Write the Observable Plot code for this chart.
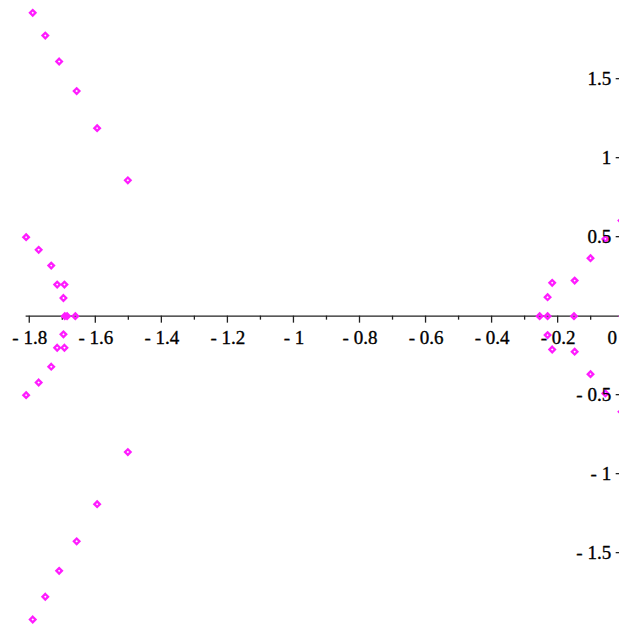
<!DOCTYPE html>
<html>
<head>
<meta charset="utf-8">
<script src="https://cdn.jsdelivr.net/npm/d3@7"></script>
<script src="https://cdn.jsdelivr.net/npm/@observablehq/plot@0.6"></script>
<style>
  html, body { margin: 0; padding: 0; background: #fff; overflow: hidden; }
  #chart svg { display: block; }
</style>
</head>
<body>
<div id="chart"></div>
<script>
// Outer branch (conjugate pairs far from the real axis)
const outerRe = [-1.791, -1.753, -1.711, -1.658, -1.596, -1.503, -1.503, -1.596, -1.658, -1.711, -1.753, -1.791];
const outerIm = [1.92, 1.776, 1.612, 1.425, 1.19, 0.86, -0.86, -1.19, -1.425, -1.612, -1.776, -1.92];

// Left cluster near x = -1.7
const leftRe = [-1.811, -1.773, -1.735, -1.717, -1.695, -1.698, -1.694, -1.687, -1.662, -1.698, -1.717, -1.695, -1.735, -1.773, -1.811];
const leftIm = [0.5, 0.42, 0.32, 0.2, 0.2, 0.115, 0, 0, 0, -0.115, -0.2, -0.2, -0.32, -0.42, -0.5];

// Right cluster near x = -0.2
const rightRe = [-0.256, -0.232, -0.232, -0.218, -0.150, -0.152, -0.102, -0.057, -0.008, -0.005, -0.232, -0.218, -0.150, -0.102, -0.057, -0.008];
const rightIm = [0, 0, 0.12, 0.211, 0.225, 0, 0.367, 0.489, 0.605, 0, -0.12, -0.211, -0.225, -0.367, -0.489, -0.605];

// Axis ticks
const xMajor = [-1.8, -1.6, -1.4, -1.2, -1, -0.8, -0.6, -0.4, -0.2, 0];
const xMinor = [-1.7, -1.5, -1.3, -1.1, -0.9, -0.7, -0.5, -0.3, -0.1];
const yMajor = [-1.5, -1, -0.5, 0.5, 1, 1.5];
const yMinor = [-1.75, -1.25, -0.75, -0.25, 0.25, 0.75, 1.25, 1.75];

const points = [];
[[outerRe, outerIm], [leftRe, leftIm], [rightRe, rightIm]].forEach(([re, im]) => {
  re.forEach((r, i) => points.push({re: r, im: im[i]}));
});

const fmt = v => v === 0 ? "0" : (v < 0 ? "- " + String(-v) : String(v));
const xMin = d3.min(points, d => d.re);

const AXIS = "#222";
const FONT = "Liberation Serif, Times New Roman, serif";
const textStyle = {fontSize: 19, fontFamily: FONT, fill: "#000", stroke: "#000", strokeWidth: 0.35};

function tickMarks(index, scales) {
  const ns = "http://www.w3.org/2000/svg";
  const g = document.createElementNS(ns, "g");
  g.setAttribute("stroke", AXIS);
  g.setAttribute("stroke-width", "1.3");
  const y0 = scales.y(0), x0 = scales.x(0);
  const add = (x1, y1, x2, y2) => {
    const l = document.createElementNS(ns, "line");
    l.setAttribute("x1", x1); l.setAttribute("y1", y1);
    l.setAttribute("x2", x2); l.setAttribute("y2", y2);
    g.appendChild(l);
  };
  xMajor.forEach(v => add(scales.x(v), y0, scales.x(v), y0 + 7));
  xMinor.forEach(v => add(scales.x(v), y0, scales.x(v), y0 + 4));
  yMajor.forEach(v => add(x0 - 8, scales.y(v), x0, scales.y(v)));
  yMinor.forEach(v => add(x0 - 4, scales.y(v), x0, scales.y(v)));
  return g;
}

const chart = Plot.plot({
  width: 619,
  height: 625,
  margin: 0,
  x: {domain: [-1.8886, -0.0142], axis: null},
  y: {domain: [-1.958, 1.998], axis: null},
  marks: [
    Plot.ruleY([0], {x1: xMin, x2: 0, stroke: AXIS, strokeWidth: 1.3}),
    tickMarks,
    Plot.dot(points, {x: "re", y: "im", symbol: "diamond2", r: 2.5, stroke: "#ff1cff", strokeWidth: 2.3, fill: "none"}),
    Plot.text(xMajor.filter(v => v !== 0), {x: d => d, y: 0, text: fmt, dy: 14, lineAnchor: "top", textAnchor: "middle", ...textStyle}),
    Plot.text([0], {x: d => d, y: 0, text: fmt, dx: -12, dy: 14, lineAnchor: "top", textAnchor: "middle", ...textStyle}),
    Plot.text(yMajor, {x: 0, y: d => d, text: fmt, dx: -13, lineAnchor: "middle", textAnchor: "end", ...textStyle})
  ]
});
document.getElementById("chart").appendChild(chart);
</script>
</body>
</html>
